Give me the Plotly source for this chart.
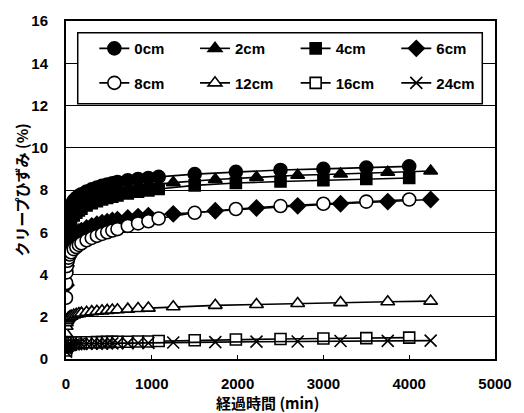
import plotly.graph_objects as go

# Elapsed time (min): closely spaced readings over the first 16 h, then sparse ones
t_dense = [0, 2, 5, 10, 20, 30, 45, 60, 90, 120, 150, 180, 240, 300, 360,
           420, 480, 540, 600, 720, 840, 960]
t_tail_a = [1080, 1500, 1980, 2500, 3000, 3500, 4000]
t_tail_b = [1250, 1740, 2220, 2700, 3200, 3750, 4250]

# Creep strain (%) at each depth
strain_0cm = [5.8, 6.3, 6.55, 6.75, 6.95, 7.05, 7.2, 7.3, 7.5, 7.62, 7.72, 7.8,
              7.93, 8.03, 8.12, 8.2, 8.26, 8.32, 8.38, 8.46, 8.52, 8.57,
              8.62, 8.75, 8.86, 8.95, 9.0, 9.06, 9.12]
strain_2cm = [5.0, 5.8, 6.1, 6.35, 6.55, 6.7, 6.85, 6.95, 7.12, 7.25, 7.35, 7.43,
              7.57, 7.68, 7.77, 7.85, 7.91, 7.97, 8.02, 8.1, 8.17, 8.22,
              8.35, 8.5, 8.6, 8.7, 8.76, 8.84, 8.9]
strain_4cm = [4.5, 5.3, 5.65, 5.95, 6.2, 6.35, 6.5, 6.62, 6.8, 6.93, 7.03, 7.12,
              7.27, 7.38, 7.47, 7.55, 7.62, 7.68, 7.74, 7.84, 7.92, 7.98,
              8.05, 8.22, 8.33, 8.4, 8.46, 8.52, 8.57]
strain_6cm = [3.5, 4.4, 4.8, 5.05, 5.3, 5.45, 5.58, 5.68, 5.82, 5.93, 6.02, 6.08,
              6.2, 6.3, 6.38, 6.45, 6.5, 6.56, 6.6, 6.68, 6.74, 6.79,
              6.87, 7.02, 7.15, 7.25, 7.35, 7.45, 7.55]
strain_8cm = [2.9, 3.6, 4.1, 4.4, 4.65, 4.8, 4.95, 5.05, 5.2, 5.3, 5.4, 5.48,
              5.62, 5.73, 5.83, 5.92, 6.0, 6.08, 6.15, 6.3, 6.42, 6.52,
              6.65, 6.92, 7.1, 7.24, 7.35, 7.45, 7.55]
strain_12cm = [1.2, 1.55, 1.72, 1.82, 1.9, 1.95, 2.0, 2.03, 2.08, 2.12, 2.15, 2.17,
               2.21, 2.24, 2.26, 2.28, 2.3, 2.32, 2.33, 2.36, 2.39, 2.41,
               2.47, 2.54, 2.58, 2.63, 2.67, 2.71, 2.74]
strain_16cm = [0.4, 0.55, 0.62, 0.67, 0.7, 0.72, 0.74, 0.75, 0.76, 0.77, 0.78, 0.78,
               0.79, 0.79, 0.8, 0.8, 0.81, 0.81, 0.82, 0.82, 0.83, 0.83,
               0.85, 0.89, 0.92, 0.95, 0.97, 0.99, 1.01]
strain_24cm = [0.35, 0.5, 0.56, 0.6, 0.63, 0.65, 0.67, 0.68, 0.69, 0.7, 0.71, 0.71,
               0.72, 0.72, 0.73, 0.73, 0.74, 0.74, 0.75, 0.75, 0.76, 0.76,
               0.78, 0.8, 0.82, 0.83, 0.85, 0.86, 0.87]

x_ticks = [0, 1000, 2000, 3000, 4000, 5000]
y_ticks = [0, 2, 4, 6, 8, 10, 12, 14, 16]

series = [
    ("0cm", strain_0cm, t_tail_a, "circle", "black", 13),
    ("2cm", strain_2cm, t_tail_b, "triangle-up", "black", 12),
    ("4cm", strain_4cm, t_tail_a, "square", "black", 11),
    ("6cm", strain_6cm, t_tail_b, "diamond", "black", 12),
    ("8cm", strain_8cm, t_tail_a, "circle", "white", 13),
    ("12cm", strain_12cm, t_tail_b, "triangle-up", "white", 12),
    ("16cm", strain_16cm, t_tail_a, "square", "white", 11),
    ("24cm", strain_24cm, t_tail_b, "x-thin", "black", 12),
]

L, R, T, B = 66, 19, 16, 54
W, H = 524, 413
pw, ph = W - L - R, H - T - B

def px_x(p):
    return (p - L) / pw

def px_y(p):
    return (H - B - p) / ph

# one single-entry legend per series, laid out as a 4 x 2 key
key_cols = [95, 198, 301, 404]
key_rows = [44, 79]

fig = go.Figure()
legend_layouts = {}
leg_font = dict(family="Liberation Sans, Arial", size=15, color="black", weight="bold")
for i, (name, vals, tail, sym, fill, size) in enumerate(series):
    leg_id = "legend" if i == 0 else f"legend{i + 1}"
    fig.add_trace(go.Scatter(
        x=t_dense + tail, y=vals, name=name, mode="lines+markers",
        line=dict(color="black", width=1.6),
        marker=dict(symbol=sym, size=size, color=fill,
                    line=dict(color="black", width=1.6)),
        legend=leg_id,
    ))
    legend_layouts[leg_id] = dict(
        x=px_x(key_cols[i % 4]), y=px_y(key_rows[i // 4]),
        xanchor="left", yanchor="middle", orientation="h",
        font=leg_font, bgcolor="rgba(0,0,0,0)", borderwidth=0,
    )

tick_font = dict(family="Liberation Sans, Arial", size=15, color="black", weight="bold")

fig.update_layout(
    width=W, height=H,
    margin=dict(l=L, r=R, t=T, b=B),
    paper_bgcolor="white", plot_bgcolor="white",
    showlegend=True,
    xaxis=dict(range=[0, 5000], tickvals=x_ticks, ticks="inside", ticklen=4,
               tickcolor="black", showgrid=False, zeroline=False,
               showline=True, linecolor="black", linewidth=2, mirror=True,
               tickfont=tick_font, ticklabelstandoff=10),
    yaxis=dict(range=[0, 16], tickvals=y_ticks, showgrid=True,
               gridcolor="black", gridwidth=1, zeroline=False,
               showline=True, linecolor="black", linewidth=2, mirror=True,
               tickfont=tick_font, ticklabelstandoff=13),
    shapes=[dict(type="rect", xref="paper", yref="paper",
                 x0=px_x(78), x1=px_x(492), y0=px_y(100), y1=px_y(28),
                 fillcolor="white", line=dict(color="black", width=1.5),
                 layer="above")],
    annotations=[
        dict(text="経過時間 (min)", xref="paper", yref="paper",
             x=px_x(272), y=px_y(403), showarrow=False,
             font=dict(family="Noto Sans CJK JP", size=15, color="black", weight="bold"),
             xanchor="center", yanchor="middle"),
        dict(text="クリープひずみ (%)", xref="paper", yref="paper",
             x=px_x(20), y=px_y(188), showarrow=False, textangle=-90,
             font=dict(family="Noto Sans CJK JP", size=15, color="black", weight="bold"),
             xanchor="center", yanchor="middle"),
    ],
)
fig.update_layout(**legend_layouts)

fig.write_html("out.html")
